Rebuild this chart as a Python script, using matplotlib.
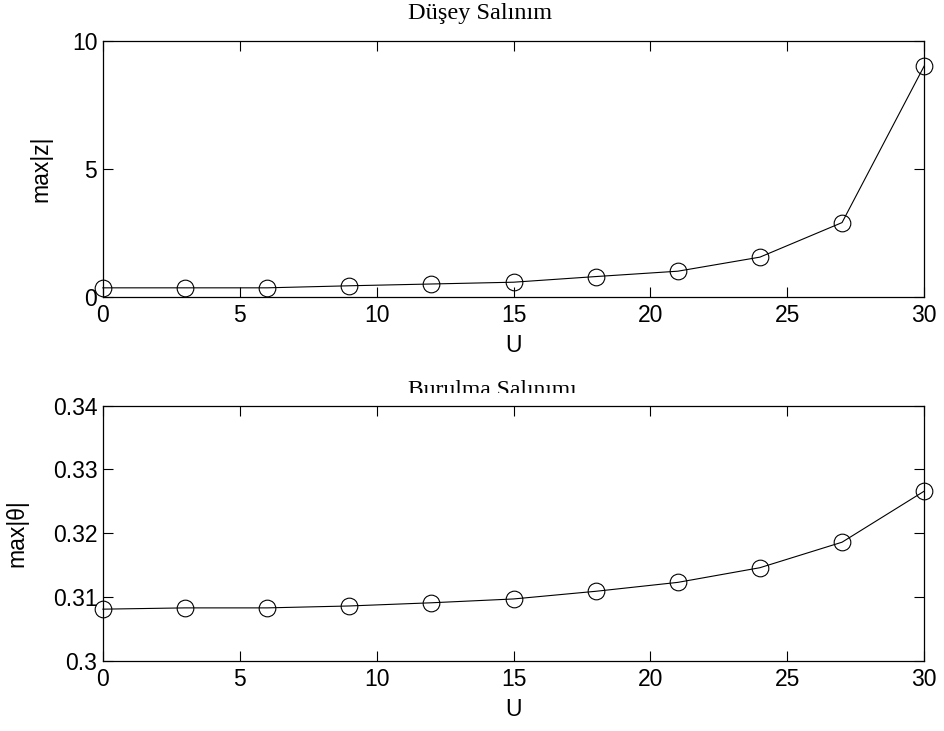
import matplotlib
matplotlib.use("Agg")
import matplotlib.pyplot as plt
from matplotlib.transforms import Bbox, TransformedBbox

# speed values and response maxima
U = [0, 3, 6, 9, 12, 15, 18, 21, 24, 27, 30]
max_z = [0.35, 0.35, 0.35, 0.43, 0.50, 0.57, 0.79, 1.00, 1.55, 2.90, 9.02]
max_theta = [0.3081, 0.3083, 0.3083, 0.3086, 0.3091, 0.3097, 0.3109, 0.3123,
             0.3146, 0.3186, 0.3266]

plt.rcParams['font.family'] = ['Liberation Sans', 'DejaVu Sans']
FS = 16.5

fig = plt.figure(figsize=(9.44, 7.31), dpi=100)


def panel(rect, y, ylim, yticks, yticklabels, ylabel, ylabel_x):
    ax = fig.add_axes(rect)
    ax.plot(U, y, color='k', linewidth=0.8, marker='o', markersize=12,
            markerfacecolor='none', markeredgecolor='k', markeredgewidth=0.8,
            clip_on=False, zorder=3)
    ax.set_xlim(0, 30)
    ax.set_ylim(*ylim)
    ax.set_xticks([0, 5, 10, 15, 20, 25, 30])
    ax.set_yticks(yticks)
    ax.set_yticklabels(yticklabels)
    ax.tick_params(direction='in', top=True, right=True, length=7,
                   width=0.8, labelsize=FS, pad=4)
    ax.tick_params(axis='x', pad=5.5)
    for s in ax.spines.values():
        s.set_linewidth(0.9)
    ax.set_xlabel('U', fontsize=FS, labelpad=4.5)
    ax.set_ylabel(ylabel, fontsize=FS)
    ax.yaxis.set_label_coords(ylabel_x, 0.5)
    return ax


ax1 = panel([0.109, 0.594, 0.870, 0.350], max_z, (0, 10), [0, 5, 10],
            ['0', '5', '10'], 'max|z|', -0.062)
ax2 = panel([0.109, 0.096, 0.870, 0.349], max_theta, (0.30, 0.34),
            [0.30, 0.31, 0.32, 0.33, 0.34],
            ['0.3', '0.31', '0.32', '0.33', '0.34'], 'max|\u03b8|', -0.091)

fig.text(0.5085, 1 - 18.5 / 731, 'D\u00fc\u015fey Sal\u0131n\u0131m', ha='center',
         va='baseline', family='Liberation Serif', fontsize=17.5)
t2 = fig.text(0.521, 1 - 395.5 / 731, 'Burulma Sal\u0131n\u0131m\u0131', ha='center',
              va='baseline', family='Liberation Serif', fontsize=17)
# the original cuts the lower title off just above its baseline
t2.set_clip_box(TransformedBbox(Bbox([[0, 1 - 393 / 731], [1, 1]]),
                                fig.transFigure))
t2.set_clip_on(True)

fig.savefig('out.png', dpi=100)
